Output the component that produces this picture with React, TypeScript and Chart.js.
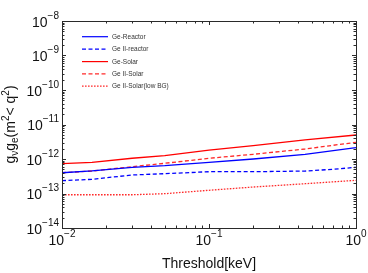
import React, { useEffect, useRef } from "react";
import { Chart, registerables } from "chart.js";

Chart.register(...registerables);

// Threshold [keV]
const thresholds = [0.01, 0.016, 0.03, 0.05, 0.1, 0.2, 0.45, 1];
const thresholdsGeIIReactor = [0.01, 0.016, 0.03, 0.05, 0.1, 0.2, 0.45, 0.7, 1];

const geReactor = [4.0e-13, 4.5e-13, 5.7e-13, 6.4e-13, 8.0e-13, 1.0e-12, 1.37e-12, 2.13e-12];
const geIIReactor = [2.35e-13, 2.58e-13, 3.44e-13, 3.75e-13, 4.28e-13, 4.28e-13, 4.47e-13, 5.03e-13, 5.74e-13];
const geSolar = [7.3e-13, 8.0e-13, 1.05e-12, 1.25e-12, 1.82e-12, 2.43e-12, 3.56e-12, 4.96e-12];
const geIISolar = [4.0e-13, 4.49e-13, 5.98e-13, 7.5e-13, 1.05e-12, 1.37e-12, 1.95e-12, 3.05e-12];
const geIISolarLowBG = [9.2e-14, 9.2e-14, 9.2e-14, 9.87e-14, 1.24e-13, 1.54e-13, 1.92e-13, 2.41e-13];

const xTickExps = [-2, -1, 0];
const yTickExps = [-8, -9, -10, -11, -12, -13, -14];

const seriesLabels = ["Ge-Reactor", "Ge II-reactor", "Ge-Solar", "Ge II-Solar", "Ge II-Solar(low BG)"];
const xTitle = "Threshold[keV]";

const BLUE = "#0000ff";
const RED = "#ff0000";
const RED_LIGHT = "#ff2a2a";
const FONT = "'Liberation Sans', Arial, Helvetica, sans-serif";

const styles = [
  { color: BLUE, dash: [] as number[] },
  { color: BLUE, dash: [4, 2.5] },
  { color: RED, dash: [] as number[] },
  { color: RED_LIGHT, dash: [4, 2.5] },
  { color: RED_LIGHT, dash: [1.6, 1.4] },
];

function pts(xs: number[], ys: number[]) {
  return xs.map((x, i) => ({ x, y: ys[i] }));
}

function drawPow(ctx: CanvasRenderingContext2D, exp: number, x: number, baseline: number, align: "center" | "right") {
  const base = "10";
  const sup = exp < 0 ? "\u2212" + Math.abs(exp) : String(exp);
  ctx.font = `14px ${FONT}`;
  const wb = ctx.measureText(base).width;
  ctx.font = `10px ${FONT}`;
  const ws = ctx.measureText(sup).width;
  const w = wb + ws;
  const start = align === "center" ? x - w / 2 : x - w;
  ctx.textAlign = "left";
  ctx.textBaseline = "alphabetic";
  ctx.font = `14px ${FONT}`;
  ctx.fillText(base, start, baseline);
  ctx.font = `10px ${FONT}`;
  ctx.fillText(sup, start + wb, baseline - 8);
}

const decorPlugin = {
  id: "decor",
  afterDraw(chart: any) {
    const ctx: CanvasRenderingContext2D = chart.ctx;
    const { left, right, top, bottom } = chart.chartArea;
    const xs = chart.scales.x;
    const ys = chart.scales.y;
    ctx.save();

    // frame
    ctx.strokeStyle = "#2a2a2a";
    ctx.lineWidth = 1;
    ctx.setLineDash([]);
    ctx.strokeRect(Math.round(left) + 0.5, Math.round(top) + 0.5, Math.round(right - left), Math.round(bottom - top));

    // ticks
    ctx.beginPath();
    for (let d = -2; d <= 0; d++) {
      for (let k = 1; k <= 9; k++) {
        const v = k * Math.pow(10, d);
        if (v > 1.0000001) continue;
        const px = Math.round(xs.getPixelForValue(v)) + 0.5;
        const len = k === 1 ? 4 : 2.5;
        ctx.moveTo(px, bottom);
        ctx.lineTo(px, bottom - len);
        ctx.moveTo(px, top);
        ctx.lineTo(px, top + len);
      }
    }
    for (let d = -14; d <= -8; d++) {
      for (let k = 1; k <= 9; k++) {
        if (d === -8 && k > 1) continue;
        const v = k * Math.pow(10, d);
        const py = Math.round(ys.getPixelForValue(v)) + 0.5;
        const len = k === 1 ? 4 : 2.5;
        ctx.moveTo(left, py);
        ctx.lineTo(left + len, py);
        ctx.moveTo(right, py);
        ctx.lineTo(right - len, py);
      }
    }
    ctx.stroke();

    // tick labels
    ctx.fillStyle = "#111";
    for (const e of xTickExps) {
      const px = xs.getPixelForValue(Math.pow(10, e));
      drawPow(ctx, e, px, bottom + 17, "center");
    }
    for (const e of yTickExps) {
      const py = ys.getPixelForValue(Math.pow(10, e));
      drawPow(ctx, e, left - 3, py + 5.5, "right");
    }

    // x title
    ctx.font = `14px ${FONT}`;
    ctx.textAlign = "center";
    ctx.textBaseline = "alphabetic";
    ctx.fillText(xTitle, (left + right) / 2, 268);

    // y title: g_ν g_e (m^2< q^2)
    const parts: { t: string; k: "n" | "sub" | "sup" }[] = [
      { t: "g", k: "n" },
      { t: "\u03bd", k: "sub" },
      { t: "g", k: "n" },
      { t: "e", k: "sub" },
      { t: "(m", k: "n" },
      { t: "2", k: "sup" },
      { t: "< q", k: "n" },
      { t: "2", k: "sup" },
      { t: ")", k: "n" },
    ];
    const fontFor = (k: string) => (k === "n" ? `14px ${FONT}` : `10px ${FONT}`);
    let total = 0;
    for (const p of parts) {
      ctx.font = fontFor(p.k);
      total += ctx.measureText(p.t).width;
    }
    ctx.save();
    ctx.translate(15, (top + bottom) / 2);
    ctx.rotate(-Math.PI / 2);
    ctx.textAlign = "left";
    let u = -total / 2;
    for (const p of parts) {
      ctx.font = fontFor(p.k);
      const dv = p.k === "sub" ? 3 : p.k === "sup" ? -6 : 0;
      ctx.fillText(p.t, u, dv);
      u += ctx.measureText(p.t).width;
    }
    ctx.restore();

    // legend
    const rowY = [36.7, 49.2, 61.6, 73.8, 86.2];
    ctx.font = `6.5px ${FONT}`;
    ctx.textAlign = "left";
    ctx.textBaseline = "middle";
    seriesLabels.forEach((lab, i) => {
      const y = rowY[i];
      ctx.strokeStyle = styles[i].color;
      ctx.lineWidth = 1.2;
      ctx.setLineDash(styles[i].dash);
      ctx.beginPath();
      ctx.moveTo(82, y);
      ctx.lineTo(108, y);
      ctx.stroke();
      ctx.setLineDash([]);
      ctx.fillStyle = "#333";
      ctx.fillText(lab, 112, y + 0.5);
    });

    ctx.restore();
  },
};

export default function App() {
  const ref = useRef<HTMLCanvasElement>(null);
  useEffect(() => {
    if (!ref.current) return;
    const data = [
      pts(thresholds, geReactor),
      pts(thresholdsGeIIReactor, geIIReactor),
      pts(thresholds, geSolar),
      pts(thresholds, geIISolar),
      pts(thresholds, geIISolarLowBG),
    ];
    const chart = new Chart(ref.current, {
      type: "line",
      data: {
        datasets: data.map((d, i) => ({
          label: seriesLabels[i],
          data: d,
          borderColor: styles[i].color,
          borderDash: styles[i].dash,
          borderWidth: 1.3,
          pointRadius: 0,
          fill: false,
          tension: 0,
        })),
      },
      options: {
        animation: false,
        responsive: false,
        maintainAspectRatio: false,
        layout: { padding: { left: 62, top: 21, right: 12, bottom: 45 } },
        plugins: { legend: { display: false }, tooltip: { enabled: false } },
        scales: {
          x: { type: "logarithmic", min: 0.01, max: 1, display: false },
          y: { type: "logarithmic", min: 1e-14, max: 1e-8, display: false },
        },
      },
      plugins: [decorPlugin],
    });
    return () => chart.destroy();
  }, []);
  return (
    <div style={{ position: "fixed", left: 0, top: 0, width: 368, height: 273, background: "#fff" }}>
      <canvas ref={ref} width={368} height={273} style={{ width: 368, height: 273 }} />
    </div>
  );
}
